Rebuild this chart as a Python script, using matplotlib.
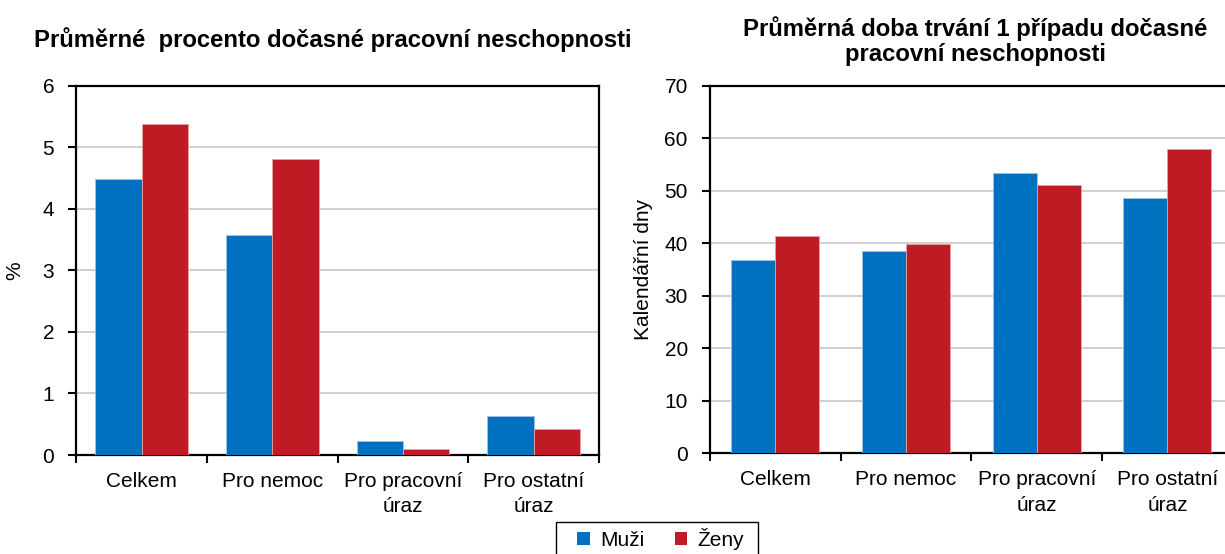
import matplotlib
matplotlib.use("Agg")
import matplotlib.pyplot as plt
import numpy as np
from matplotlib.patches import Patch, Rectangle

plt.rcParams['font.family'] = ['Liberation Sans', 'DejaVu Sans']

# data
categories = ["Celkem", "Pro nemoc", "Pro pracovní\núraz", "Pro ostatní\núraz"]
procento_muzi = [4.48, 3.58, 0.23, 0.63]
procento_zeny = [5.38, 4.81, 0.09, 0.43]
doba_muzi = [36.9, 38.5, 53.3, 48.6]
doba_zeny = [41.3, 39.9, 51.0, 58.0]

blue = "#0070c0"
red = "#be1b24"

fig = plt.figure(figsize=(12.25, 5.54), dpi=100)
ax1 = fig.add_axes([0.0624, 0.1787, 0.4265, 0.6666])
ax2 = fig.add_axes([0.5796, 0.1818, 0.4267, 0.6635])

x = np.arange(len(categories))


def draw(ax, muzi, zeny, ymax, step, ylabel, w):
    ax.bar(x - w / 2, muzi, w, color=blue, edgecolor="#9dc3e6", linewidth=0.6, zorder=3)
    ax.bar(x + w / 2, zeny, w, color=red, edgecolor="#e8a0a4", linewidth=0.6, zorder=3)
    ax.set_xlim(-0.5, len(categories) - 0.5)
    ax.set_ylim(0, ymax)
    ax.set_yticks(np.arange(0, ymax + step / 2, step))
    ax.yaxis.grid(True, color="#c8c8c8", linewidth=1.2, zorder=0)
    ax.set_xticks(x)
    ax.set_xticklabels(categories, fontsize=15, linespacing=1.45)
    ax.set_xticks(np.arange(-0.5, len(categories)), minor=True)
    ax.tick_params(axis="x", which="major", length=0, pad=12)
    ax.tick_params(axis="x", which="minor", length=6, width=1.5, direction="out")
    ax.tick_params(axis="y", length=6, width=1.5, direction="out", labelsize=15, pad=10)
    for s in ax.spines.values():
        s.set_linewidth(1.6)
        s.set_color("black")
    ax.set_ylabel(ylabel, fontsize=15)


draw(ax1, procento_muzi, procento_zeny, 6, 1, "%", 0.355)
draw(ax2, doba_muzi, doba_zeny, 70, 10, "Kalendářní dny", 0.336)
ax1.yaxis.set_label_coords(-0.099, 0.5)
ax2.yaxis.set_label_coords(-0.110, 0.5)

fig.text(0.272, 0.928, "Průměrné  procento dočasné pracovní neschopnosti",
         ha="center", va="center", fontsize=17.2, fontweight="bold")
fig.text(0.796, 0.926, "Průměrná doba trvání 1 případu dočasné\npracovní neschopnosti",
         ha="center", va="center", fontsize=17.2, fontweight="bold", linespacing=1.15)

# legend box
fig.patches.append(Rectangle((556 / 1225, -0.01), 202 / 1225, 0.0672, transform=fig.transFigure,
                             facecolor="white", edgecolor="black", linewidth=1.0))
handles = [Patch(facecolor=blue, label="Muži"), Patch(facecolor=red, label="Ženy")]
fig.legend(handles=handles, loc="center", bbox_to_anchor=(0.5395, 0.027), ncol=2,
           frameon=False, fontsize=15,
           handlelength=0.6, handleheight=0.6, handletextpad=0.5, columnspacing=1.45,
           borderpad=0.0, borderaxespad=0.0)

fig.savefig("out.png", dpi=100)
